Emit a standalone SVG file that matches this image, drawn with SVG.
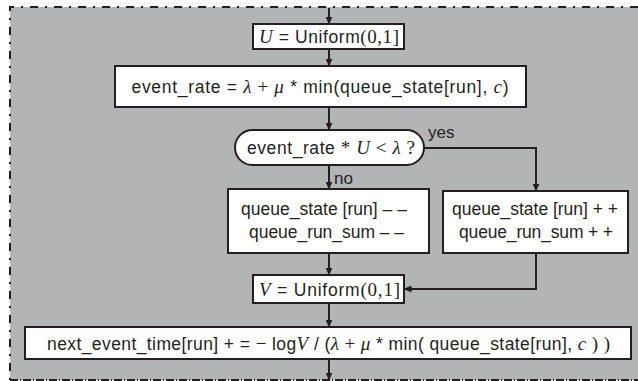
<svg xmlns="http://www.w3.org/2000/svg" width="638" height="381" viewBox="0 0 638 381">
  <style>
    .bg { fill: #b3b4b6; }
    .frame { fill: none; stroke: #231f20; stroke-width: 2; stroke-dasharray: 8 7 2 7; }
    .frame-b { fill: none; stroke: #231f20; stroke-width: 2; stroke-dasharray: 8 2 1 2; }
    .box { fill: #ffffff; stroke: #231f20; stroke-width: 2; }
    .link { fill: none; stroke: #231f20; stroke-width: 2; }
    .t { font-family: "Liberation Sans", Arial, sans-serif; font-size: 17.5px; fill: #231f20; text-anchor: middle; }
    .lbl { font-family: "Liberation Sans", Arial, sans-serif; font-size: 17px; fill: #231f20; }
    .m { font-family: "Liberation Serif", "Times New Roman", serif; font-style: italic; font-size: 19px; }
    .r { font-family: "Liberation Serif", "Times New Roman", serif; font-size: 19px; }
  </style>
  <defs>
    <marker id="arrow" markerUnits="userSpaceOnUse" markerWidth="8" markerHeight="7" refX="7.5" refY="3.5" orient="auto">
      <path d="M0,0 L8,3.5 L0,7 z" fill="#231f20"/>
    </marker>
  </defs>

  <!-- grey loop region with dash-dot frame -->
  <rect class="bg" x="10" y="7" width="628" height="373"/>
  <path class="frame" d="M638,7 H10 V380"/>
  <path class="frame-b" d="M10,380 H638"/>

  <!-- connectors -->
  <g id="connectors">
    <path class="link" d="M329,8 V24" marker-end="url(#arrow)"/>
    <path class="link" d="M329,49 V66" marker-end="url(#arrow)"/>
    <path class="link" d="M329,107 V130" marker-end="url(#arrow)"/>
    <path class="link" d="M329,165 V189" marker-end="url(#arrow)"/>
    <path class="link" d="M424,148 H536 V191" marker-end="url(#arrow)"/>
    <path class="link" d="M329,253 V275" marker-end="url(#arrow)"/>
    <path class="link" d="M536,253 V289 H404" marker-end="url(#arrow)"/>
    <path class="link" d="M329,303 V327" marker-end="url(#arrow)"/>
    <path class="link" d="M329,359 V380" marker-end="url(#arrow)"/>
    <text class="lbl" x="428" y="138">yes</text>
    <text class="lbl" x="334" y="184">no</text>
  </g>

  <g id="draw-u">
    <rect class="box" x="253" y="24" width="151" height="25"/>
    <text class="t" x="329" y="43" textLength="140"><tspan class="m">U</tspan> = Uniform<tspan class="r">(0,1]</tspan></text>
  </g>

  <g id="event-rate">
    <rect class="box" x="115" y="66" width="411" height="41"/>
    <text class="t" x="320" y="93" textLength="377">event_rate = <tspan class="m">λ</tspan><tspan class="r"> + </tspan><tspan class="m">μ</tspan> * min(queue_state[run], <tspan class="m">c</tspan>)</text>
  </g>

  <g id="decision">
    <rect class="box" x="235" y="130" width="189" height="35" rx="17.5"/>
    <text class="t" x="331" y="154" textLength="168">event_rate <tspan class="r">* </tspan><tspan class="m">U</tspan><tspan class="r"> &lt; </tspan><tspan class="m">λ</tspan><tspan class="r"> ?</tspan></text>
  </g>

  <g id="departure">
    <rect class="box" x="228" y="189" width="201" height="64"/>
    <text class="t" x="324" y="215" textLength="166">queue_state [run] – –</text>
    <text class="t" x="326.5" y="238" textLength="155">queue_run_sum – –</text>
  </g>

  <g id="arrival">
    <rect class="box" x="443" y="191" width="185" height="62"/>
    <text class="t" x="535" y="215" textLength="166">queue_state [run] + +</text>
    <text class="t" x="536" y="238" textLength="154">queue_run_sum + +</text>
  </g>

  <g id="draw-v">
    <rect class="box" x="253" y="275" width="151" height="28"/>
    <text class="t" x="329.5" y="296" textLength="141"><tspan class="m">V</tspan> = Uniform<tspan class="r">(0,1]</tspan></text>
  </g>

  <g id="next-event">
    <rect class="box" x="25" y="327" width="606" height="32"/>
    <text class="t" x="328.5" y="349.5" textLength="563">next_event_time[run] + = <tspan class="r">−</tspan> log<tspan class="m">V</tspan> / (<tspan class="m">λ</tspan><tspan class="r"> + </tspan><tspan class="m">μ</tspan> * min( queue_state[run], <tspan class="m">c</tspan><tspan class="r"> ) )</tspan></text>
  </g>
</svg>
